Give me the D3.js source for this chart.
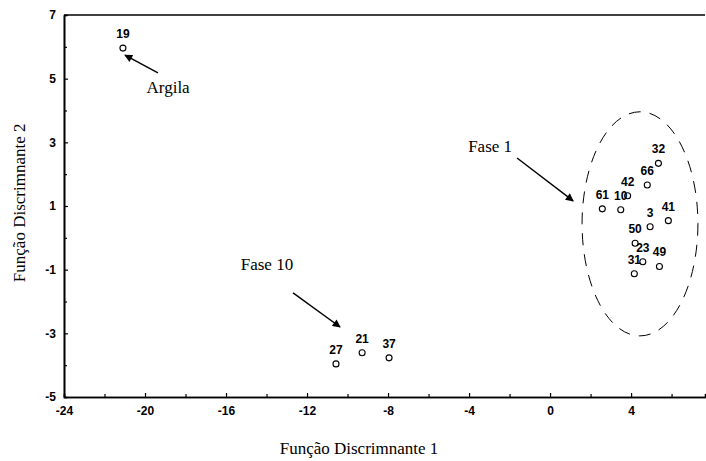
<!DOCTYPE html>
<html>
<head>
<meta charset="utf-8">
<script src="https://cdn.jsdelivr.net/npm/d3@7"></script>
<style>
  body { margin: 0; background: #fff; }
  svg { display: block; }
  .tick text { font-family: "Liberation Sans", Arial, sans-serif; font-weight: bold; font-size: 12px; fill: #000; }
  .ann { font-family: "Liberation Serif", "Times New Roman", serif; font-size: 17px; fill: #000; }
  .plab { font-family: "Liberation Sans", Arial, sans-serif; font-weight: bold; font-size: 12px; fill: #000; }
</style>
</head>
<body>
<svg id="canvas" width="706" height="461"></svg>
<script>
// ---------------------------------------------------------------- data
var labels = ["19", "27", "21", "37", "32", "66", "42", "61", "10", "3", "41", "50", "23", "49", "31"];
var xs     = [-21.09, -10.57, -9.28, -7.95, 5.35, 4.80, 3.83, 2.58, 3.49, 4.94, 5.84, 4.20, 4.58, 5.40, 4.16];
var ys     = [5.96, -3.96, -3.61, -3.77, 2.34, 1.66, 1.32, 0.91, 0.88, 0.35, 0.54, -0.17, -0.75, -0.90, -1.13];

var xTicks = [-24, -20, -16, -12, -8, -4, 0, 4];
var yTicks = [-5, -3, -1, 1, 3, 5, 7];

// annotations: text anchor and arrow from/to, in data units
var annText  = ["Argila", "Fase 10", "Fase 1"];
var annTextX = [-18.86, -13.98, -2.96];
var annTextY = [4.55, -1.01, 2.70];
var annFromX = [-19.36, -12.69, -1.63];
var annFromY = [5.18, -1.73, 2.51];
var annToX   = [-20.99, -10.37, 1.14];
var annToY   = [5.74, -2.80, 1.16];

// dashed ellipse around Fase 1 group
var ellipseC = [4.44, 0.44];
var ellipseR = [2.86, 3.52];

var xTitle = "Função Discrimnante 1";
var yTitle = "Função Discrimnante 2";

// ---------------------------------------------------------------- layout
var svg = d3.select('#canvas');
var m = { left: 64, right: 705, top: 15, bottom: 397 };

var xScale = d3.scaleLinear().domain([-24, 7.65]).range([m.left, m.right]);
var yScale = d3.scaleLinear().domain([-5, 7]).range([m.bottom, m.top]);

// arrow marker
var mk = svg.append('defs').append('marker')
  .attr('id', 'head').attr('viewBox', '0 0 10 10')
  .attr('refX', 9).attr('refY', 5)
  .attr('markerWidth', 11).attr('markerHeight', 8)
  .attr('markerUnits', 'userSpaceOnUse')
  .attr('orient', 'auto');
mk.append('path').attr('d', 'M0,0 L10,5 L0,10 Z').attr('fill', '#000');

// ---------------------------------------------------------------- axes
var fmt = d => String(d);

svg.append('g').attr('transform', 'translate(0,' + m.bottom + ')')
  .call(d3.axisBottom(xScale).tickValues(xTicks).tickFormat(fmt).tickSizeInner(-4).tickSizeOuter(0).tickPadding(9));
svg.append('g').attr('transform', 'translate(0,' + m.bottom + ')')
  .call(d3.axisBottom(xScale).tickValues(d3.range(-22, 8, 4)).tickSize(-3).tickFormat(''));

svg.append('g').attr('transform', 'translate(' + m.left + ',0)')
  .call(d3.axisLeft(yScale).tickValues(yTicks).tickFormat(fmt).tickSizeInner(-4).tickSizeOuter(0).tickPadding(8));
svg.append('g').attr('transform', 'translate(' + m.left + ',0)')
  .call(d3.axisLeft(yScale).tickValues(d3.range(-4, 7, 2)).tickSize(-3).tickFormat(''));

svg.selectAll('.domain').attr('stroke', '#000').attr('stroke-width', 1.6);
svg.selectAll('.tick line').attr('stroke', '#000').attr('stroke-width', 1.2);

// top frame line
svg.append('line')
  .attr('x1', xScale(-24)).attr('x2', xScale(7.65))
  .attr('y1', yScale(7)).attr('y2', yScale(7))
  .attr('stroke', '#000').attr('stroke-width', 1.6);

// axis titles
svg.append('text').attr('class', 'ann')
  .attr('x', 359).attr('y', 454).attr('text-anchor', 'middle')
  .text(xTitle);
svg.append('text').attr('class', 'ann')
  .attr('transform', 'translate(25,' + yScale(1.1) + ') rotate(-90)')
  .attr('text-anchor', 'middle')
  .text(yTitle);

// ---------------------------------------------------------------- ellipse
svg.append('ellipse')
  .attr('cx', xScale(ellipseC[0])).attr('cy', yScale(ellipseC[1]))
  .attr('rx', xScale(ellipseC[0] + ellipseR[0]) - xScale(ellipseC[0]))
  .attr('ry', yScale(ellipseC[1]) - yScale(ellipseC[1] + ellipseR[1]))
  .attr('fill', 'none').attr('stroke', '#000').attr('stroke-width', 1)
  .attr('stroke-dasharray', '12,9');

// ---------------------------------------------------------------- points
var pts = labels.map((d, i) => ({ label: d, x: xs[i], y: ys[i] }));

svg.append('g').selectAll('circle').data(pts).enter().append('circle')
  .attr('cx', d => xScale(d.x)).attr('cy', d => yScale(d.y))
  .attr('r', 3).attr('fill', 'none').attr('stroke', '#000').attr('stroke-width', 1.1);

svg.append('g').selectAll('text').data(pts).enter().append('text')
  .attr('class', 'plab')
  .attr('x', d => xScale(d.x)).attr('y', d => yScale(d.y) - 10)
  .attr('text-anchor', 'middle')
  .text(d => d.label);

// ---------------------------------------------------------------- annotations
annText.forEach((t, i) => {
  svg.append('text').attr('class', 'ann')
    .attr('x', xScale(annTextX[i])).attr('y', yScale(annTextY[i]))
    .attr('text-anchor', 'middle')
    .text(t);
  svg.append('line')
    .attr('x1', xScale(annFromX[i])).attr('y1', yScale(annFromY[i]))
    .attr('x2', xScale(annToX[i])).attr('y2', yScale(annToY[i]))
    .attr('stroke', '#000').attr('stroke-width', 1.4)
    .attr('marker-end', 'url(#head)');
});
</script>
</body>
</html>
